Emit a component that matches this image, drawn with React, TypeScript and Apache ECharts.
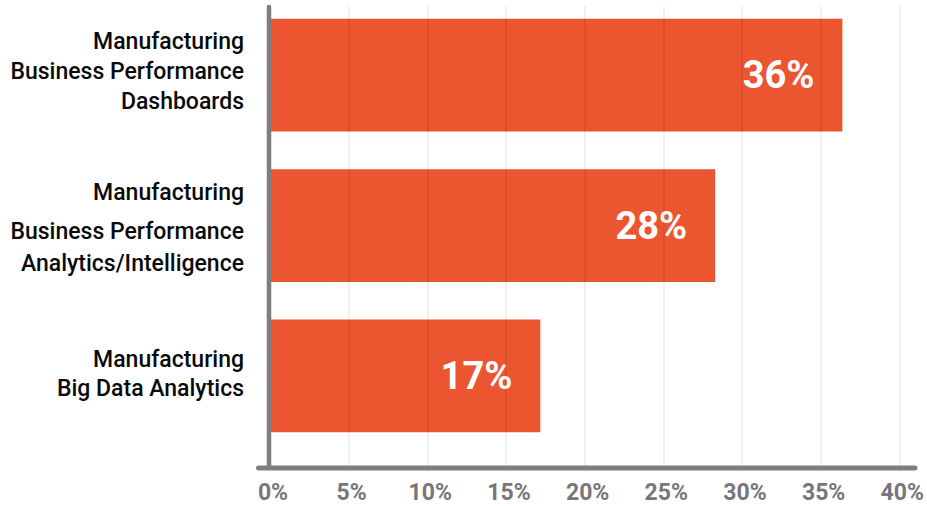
import React, { useEffect, useRef } from "react";
import * as echarts from "echarts";

// ---- data ----
const categories: string[] = [
  "Manufacturing\nBusiness Performance\nDashboards",
  "Manufacturing\nBusiness Performance\nAnalytics/Intelligence",
  "Manufacturing\nBig Data Analytics",
];
const values: number[] = [36, 28, 17];
const axisMin = 0;
const axisMax = 40;
const axisStep = 5;

// ---- style (per-category label line heights, last entry = bottom spacer) ----
const labelLineHeights: number[][] = [
  [30, 30, 30, 8],
  [46, 32, 32, 3],
  [29, 29, 3],
];

const BAR = "#EB5530";
const AXIS = "#7d7e82";

export default function App() {
  const ref = useRef<HTMLDivElement>(null);

  useEffect(() => {
    if (!ref.current) return;
    const chart = echarts.init(ref.current, undefined, { renderer: "svg" });

    const rich: Record<string, any> = {};
    labelLineHeights.forEach((lhs, ci) => {
      lhs.forEach((lh, li) => {
        const isPad = li === lhs.length - 1;
        rich[`c${ci}l${li}`] = isPad
          ? { fontSize: 1, lineHeight: lh, color: "#111" }
          : {
              fontSize: 23,
              fontWeight: 500,
              lineHeight: lh,
              color: "#0a0a0a",
              fontFamily: "Roboto",
              align: "right",
            };
      });
    });

    const option: any = {
      animation: false,
      backgroundColor: "#ffffff",
      grid: [
        { left: 270, width: 636, top: 0, height: 451, containLabel: false },
        { left: 270, width: 636, top: 6, height: 460, containLabel: false },
      ],
      xAxis: [
        {
          gridIndex: 0,
          type: "value",
          min: axisMin,
          max: axisMax,
          interval: axisStep,
          show: false,
        },
        {
          gridIndex: 1,
          type: "value",
          min: axisMin,
          max: axisMax,
          interval: axisStep,
          z: 5,
          axisLine: { show: false },
          axisTick: { show: false },
          splitLine: {
            show: true,
            lineStyle: { color: "rgba(0,0,0,0.06)", width: 2 },
          },
          axisLabel: {
            formatter: "{value}%",
            fontFamily: "Roboto",
            fontWeight: "bold",
            fontSize: 23,
            color: "#77777b",
            margin: 15,
            padding: [0, 0, 0, 6],
          },
        },
      ],
      yAxis: [
        {
          gridIndex: 0,
          type: "category",
          inverse: true,
          data: categories,
          axisLine: { show: false },
          axisTick: { show: false },
          splitLine: { show: false },
          axisLabel: {
            margin: 26,
            interval: 0,
            formatter: (value: string, index: number) => {
              const lines = value.split("\n");
              const pad = labelLineHeights[index].length - 1;
              return (
                lines.map((l, i) => `{c${index}l${i}|${l}}`).join("\n") +
                `\n{c${index}l${pad}| }`
              );
            },
            rich,
          },
        },
        {
          gridIndex: 1,
          type: "value",
          min: 0,
          max: 1,
          show: false,
        },
      ],
      series: [
        {
          type: "bar",
          xAxisIndex: 0,
          yAxisIndex: 0,
          data: values,
          barCategoryGap: "25%",
          itemStyle: { color: BAR },
          label: {
            show: true,
            position: "insideRight",
            distance: 28,
            formatter: "{c}%",
            color: "#ffffff",
            fontFamily: "Roboto",
            fontWeight: "bold",
            fontSize: 38,
          },
        },
      ],
      graphic: [
        {
          type: "line",
          z: 10,
          shape: { x1: 269, y1: 7, x2: 269, y2: 466 },
          style: { stroke: AXIS, lineWidth: 4.5, lineCap: "round" },
        },
        {
          type: "line",
          z: 10,
          shape: { x1: 258.5, y1: 468, x2: 915, y2: 468 },
          style: { stroke: AXIS, lineWidth: 5, lineCap: "round" },
        },
      ],
    };

    chart.setOption(option);
    return () => chart.dispose();
  }, []);

  return (
    <div
      ref={ref}
      style={{ position: "fixed", left: 0, top: 0, width: 927, height: 506 }}
    />
  );
}
